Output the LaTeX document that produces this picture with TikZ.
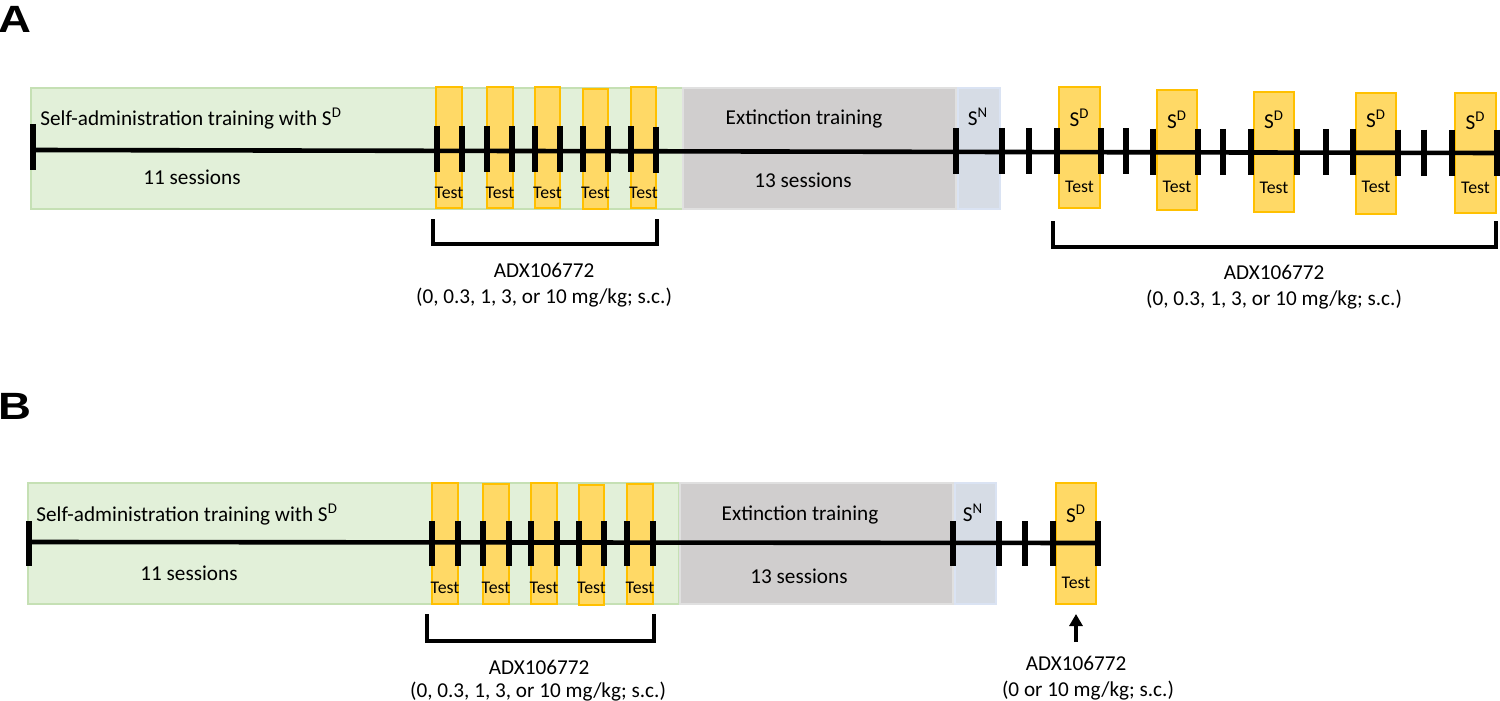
\documentclass[tikz,border=0pt]{standalone}
\usepackage{fontspec}
\setmainfont{Carlito}
\newfontfamily\labelfont{Liberation Sans}
\usetikzlibrary{arrows.meta}
\definecolor{sagreen}{HTML}{E2F0D9}
\definecolor{sagreenb}{HTML}{C5E0B4}
\definecolor{exgray}{HTML}{D0CECE}
\definecolor{exgrayb}{HTML}{E0E0E0}
\definecolor{snblue}{HTML}{D6DCE5}
\definecolor{snblueb}{HTML}{DAE3F3}
\definecolor{tyellow}{HTML}{FFD966}
\definecolor{tyellowb}{HTML}{FFC000}
\begin{document}
\begin{tikzpicture}[x=0.5pt,y=-0.5pt,
  greenbox/.style={fill=sagreen,draw=sagreenb,line width=1pt},
  graybox/.style={fill=exgray,draw=exgrayb,line width=1pt},
  bluebox/.style={fill=snblue,draw=snblueb,line width=1pt},
  yellowbox/.style={fill=tyellow,draw=tyellowb,line width=1pt},
  timeline/.style={line width=2.3pt},
  tickmark/.style={line width=2.8pt},
  bracketline/.style={line width=2.3pt,line join=miter},
  lbl/.style={font=\fontsize{10.6}{12}\selectfont,inner sep=0pt,text depth=0pt},
  testlbl/.style={font=\fontsize{8.9}{10}\selectfont,inner sep=0pt,text depth=0pt},
  panellbl/.style={font=\labelfont\bfseries\fontsize{19}{22}\selectfont,inner sep=0pt},
  arrowline/.style={line width=1.6pt,-{Triangle[length=6pt,width=6.5pt]}}]
\useasboundingbox (0,0) rectangle (1500,701);

% ---------------- Panel A ----------------
\node[panellbl] (labA) at (15,19) {\scalebox{1.2}[1]{A}};
\draw[greenbox] (31,88) rectangle (683,209);
\draw[graybox] (683,88) rectangle (956,209);
\draw[bluebox] (958,88) rectangle (1000,209);
\foreach \l/\t/\r/\b/\i in {436/87/462/208/1,487/87/513/208/2,535/87/560/208/3,583/89/608/209/4,631/87/656/208/5}{
  \draw[yellowbox] (\l,\t) rectangle (\r,\b);
  \node[testlbl] (testA\i) at ({(\l+\r)/2},193) {Test};
}
\foreach \l/\t/\r/\b/\i/\sy/\ty in {1059/87/1100/208/1/118/187,1157/90/1197/210/2/120/187,1254/92/1294/212/3/120/188,1356/93/1396/214/4/119/187,1455/93/1496/213/5/121/188}{
  \draw[yellowbox] (\l,\t) rectangle (\r,\b);
  \node[lbl] (sdA\i) at ({(\l+\r)/2},\sy) {S\textsuperscript{D}};
  \node[testlbl] (sdtestA\i) at ({(\l+\r)/2},\ty) {Test};
}
\coordinate (lineAstart) at (33,150);
\coordinate (lineAend) at (1497,153);
\draw[timeline] (lineAstart) -- (lineAend);
\foreach \x in {33,437,462,487,512,535,560,583,608,631,656,956,1002,1029,1057,1101,1126,1153,1198,1223,1251,1297,1326,1353,1398,1424,1452,1497}{
  \draw[tickmark] (\x,{124+6*(\x-33)/1465}) -- (\x,{170+6*(\x-33)/1465});
}
\node[lbl,anchor=west] (saA) at (40,117) {Self-administration training with S\textsuperscript{D}};
\node[lbl] (sessA1) at (192,177) {11 sessions};
\node[lbl] (extA) at (804,117) {Extinction training};
\node[lbl] (sessA2) at (803,180) {13 sessions};
\node[lbl] (snA) at (978,117) {S\textsuperscript{N}};

% brackets A
\coordinate (brA1a) at (433,219);
\coordinate (brA1b) at (433,244);
\coordinate (brA1c) at (657,244);
\coordinate (brA1d) at (657,219);
\draw[bracketline] (brA1a) -- (brA1b) -- (brA1c) -- (brA1d);
\node[lbl] (adxA1) at (544,270) {ADX106772};
\node[lbl] (doseA1) at (544,296) {(0, 0.3, 1, 3, or 10 mg/kg; s.c.)};
\coordinate (brA2a) at (1053,221);
\coordinate (brA2b) at (1053,247);
\coordinate (brA2c) at (1496,247);
\coordinate (brA2d) at (1496,221);
\draw[bracketline] (brA2a) -- (brA2b) -- (brA2c) -- (brA2d);
\node[lbl] (adxA2) at (1274,272) {ADX106772};
\node[lbl] (doseA2) at (1274,298) {(0, 0.3, 1, 3, or 10 mg/kg; s.c.)};

% ---------------- Panel B ----------------
\node[panellbl] (labB) at (15,406) {\scalebox{1.2}[1]{B}};
\draw[greenbox] (28,483) rectangle (679,604);
\draw[graybox] (680,483) rectangle (953,604);
\draw[bluebox] (955,483) rectangle (996,604);
\foreach \l/\t/\r/\b/\i in {432/483/458/604/1,483/484/509/604/2,531/483/557/604/3,579/485/604/605/4,627/484/653/604/5}{
  \draw[yellowbox] (\l,\t) rectangle (\r,\b);
  \node[testlbl] (testB\i) at ({(\l+\r)/2},588) {Test};
}
\draw[yellowbox] (1056,483) rectangle (1096,604);
\node[lbl] (sdB) at (1076,514) {S\textsuperscript{D}};
\node[testlbl] (sdtestB) at (1076,583) {Test};
\coordinate (lineBstart) at (29,542);
\coordinate (lineBend) at (1098,543);
\draw[timeline] (lineBstart) -- (lineBend);
\foreach \x in {29,432,458,483,509,531,557,579,604,627,653,953,999,1025,1053,1098}{
  \draw[tickmark] (\x,521) -- (\x,566);
}
\node[lbl,anchor=west] (saB) at (36,513) {Self-administration training with S\textsuperscript{D}};
\node[lbl] (sessB1) at (189,573) {11 sessions};
\node[lbl] (extB) at (800,513) {Extinction training};
\node[lbl] (sessB2) at (799,576) {13 sessions};
\node[lbl] (snB) at (973,513) {S\textsuperscript{N}};

\coordinate (brB1a) at (427,614);
\coordinate (brB1b) at (427,641);
\coordinate (brB1c) at (654,641);
\coordinate (brB1d) at (654,614);
\draw[bracketline] (brB1a) -- (brB1b) -- (brB1c) -- (brB1d);
\node[lbl] (adxB1) at (539,667) {ADX106772};
\node[lbl] (doseB1) at (538,690) {(0, 0.3, 1, 3, or 10 mg/kg; s.c.)};

\coordinate (arrowtail) at (1076,642);
\coordinate (arrowtip) at (1076,614);
\draw[arrowline] (arrowtail) -- (arrowtip);
\node[lbl] (adxB2) at (1076,663) {ADX106772};
\node[lbl] (doseB2) at (1088,689) {(0 or 10 mg/kg; s.c.)};
\end{tikzpicture}
\end{document}
